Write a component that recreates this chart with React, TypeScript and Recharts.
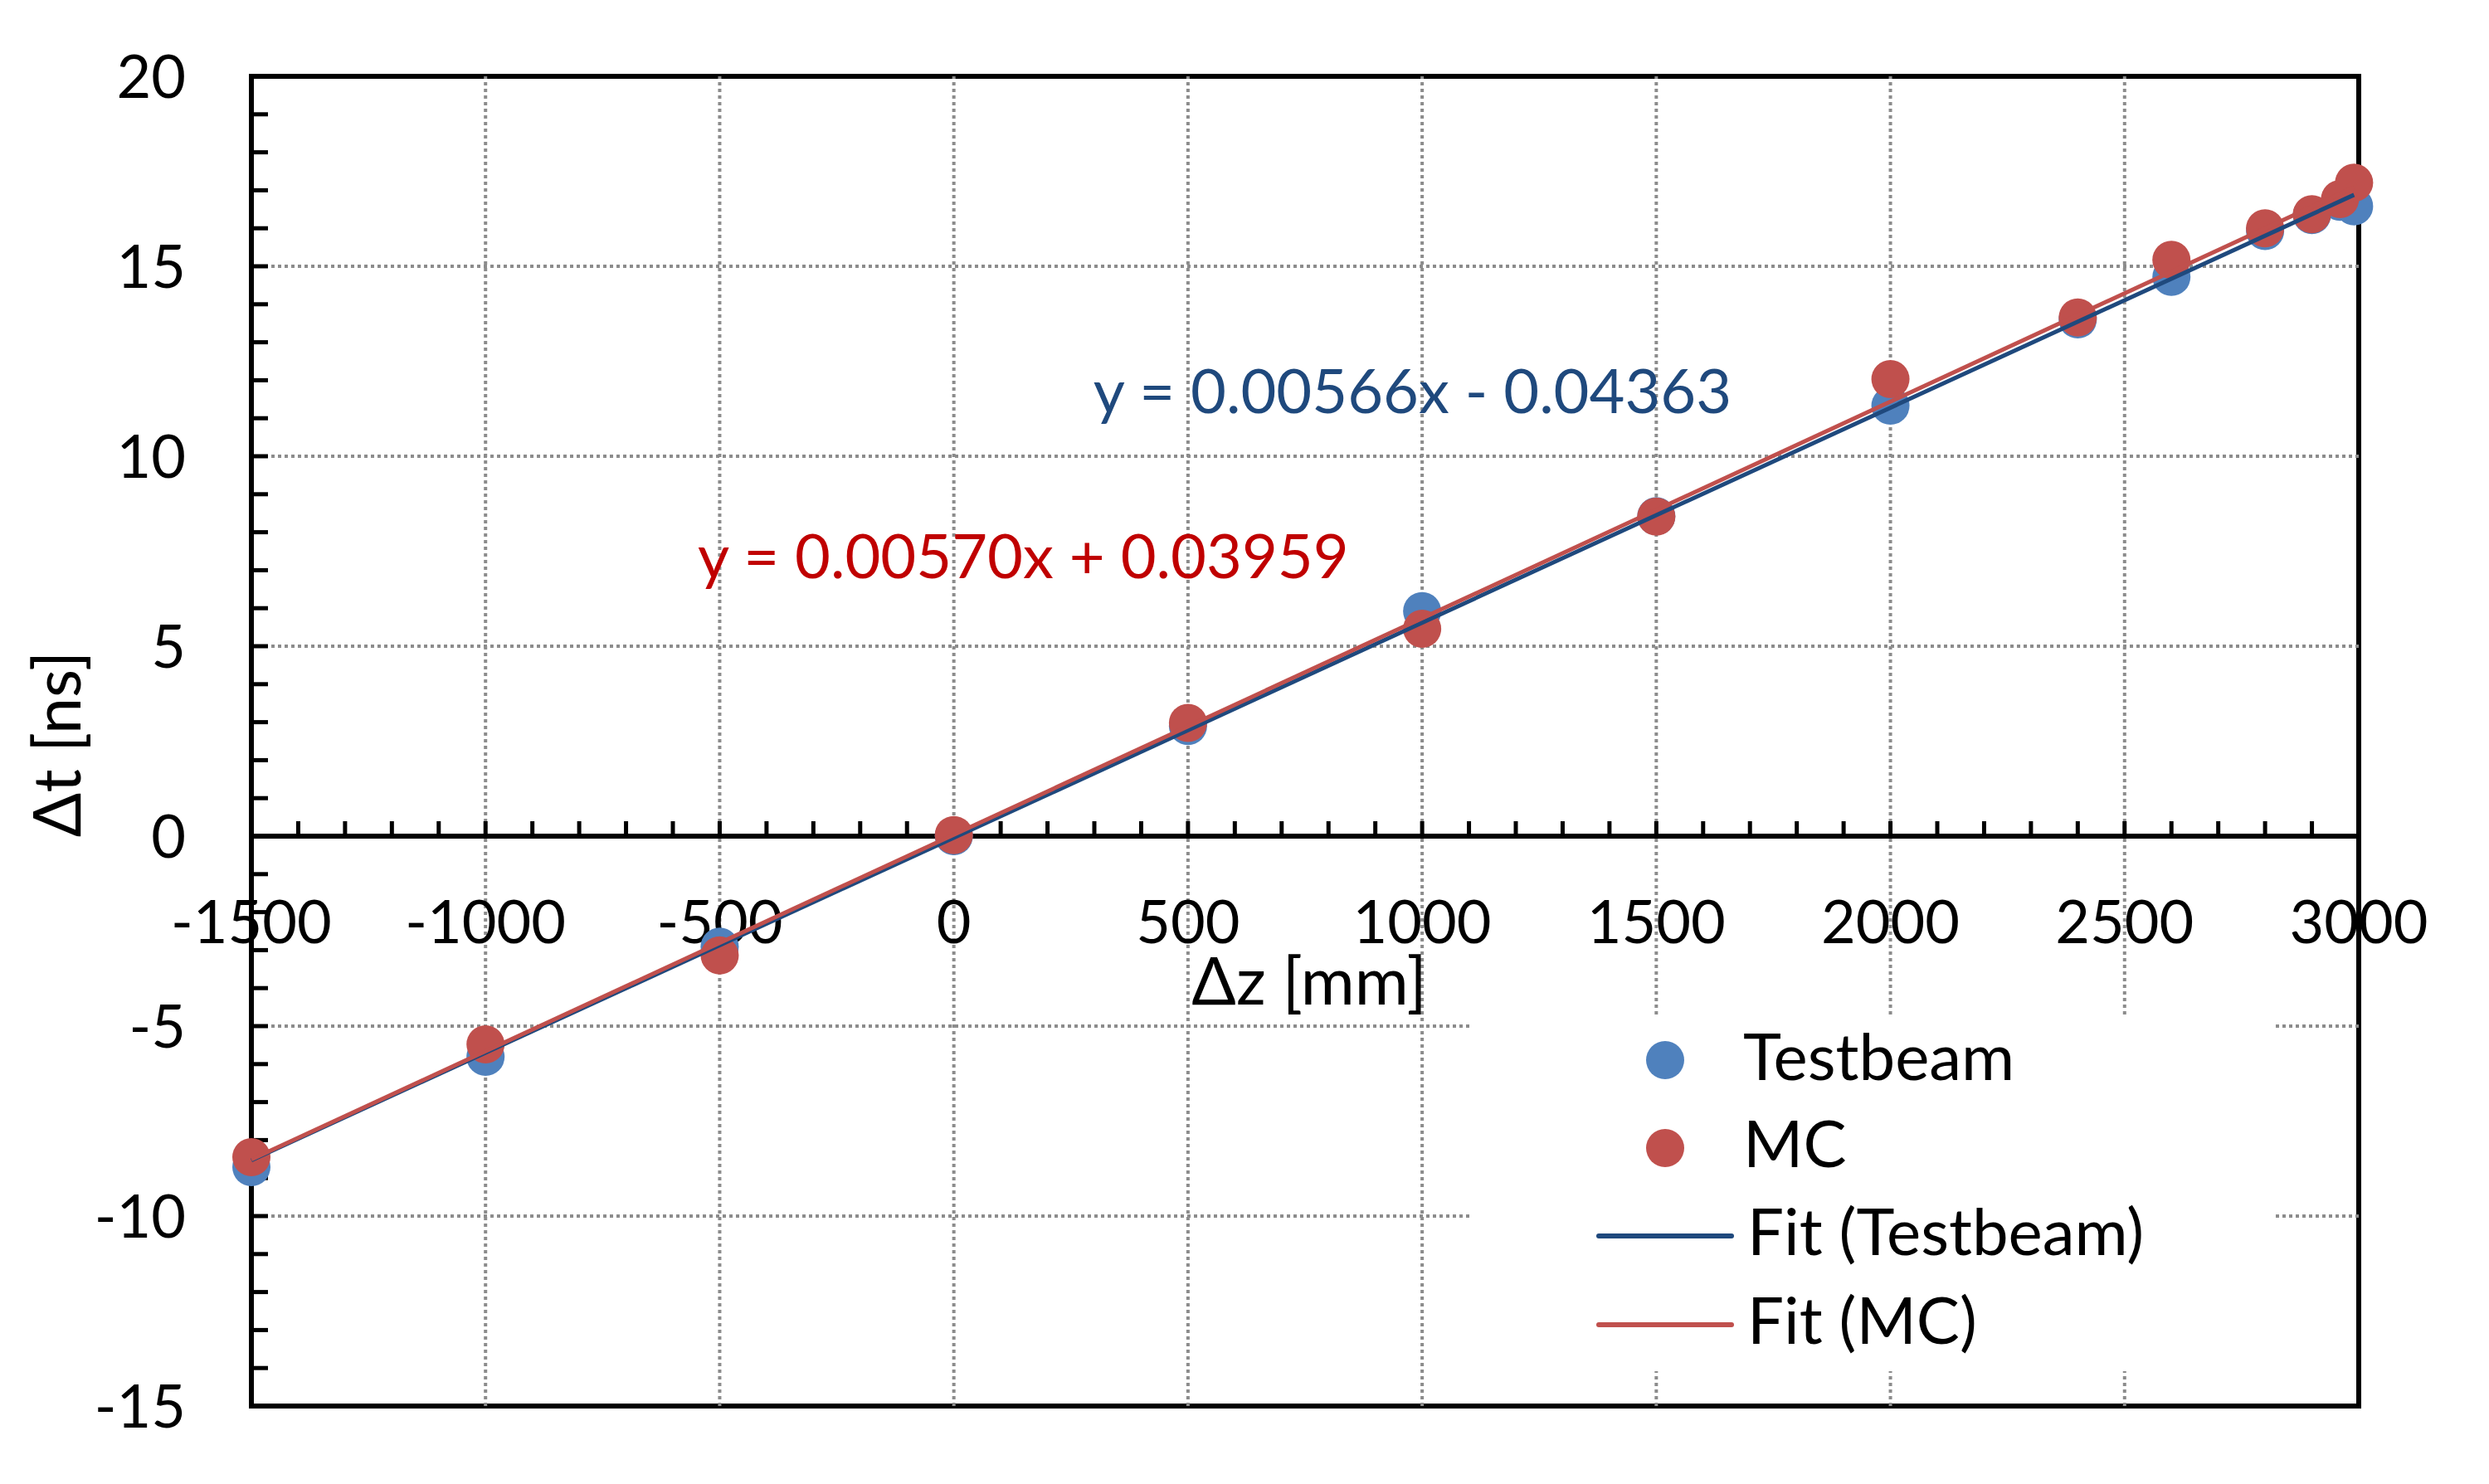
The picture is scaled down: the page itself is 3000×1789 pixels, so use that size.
import React from 'react';
import { ScatterChart, Scatter, XAxis, YAxis, ReferenceLine, ReferenceArea, Legend } from 'recharts';

// ---- data ----
const zPositions = [-1500, -1000, -500, 0, 500, 1000, 1500, 2000, 2400, 2600, 2800, 2900, 2960, 2990];
const testbeamDt = [-8.71, -5.81, -2.91, 0.0, 2.9, 5.92, 8.42, 11.33, 13.6, 14.72, 15.93, 16.35, 16.7, 16.58];
const mcDt = [-8.45, -5.48, -3.14, 0.03, 2.98, 5.46, 8.41, 12.03, 13.65, 15.17, 16.0, 16.37, 16.77, 17.2];

const fitZ = [-1500, 2990];
const fitTestbeamDt = [-8.53, 16.88];
const fitMcDt = [-8.51, 17.08];

const xTickValues = [-1500, -1000, -500, 0, 500, 1000, 1500, 2000, 2500, 3000];
const yTickValues = [-15, -10, -5, 0, 5, 10, 15, 20];
const xGridValues = [-1000, -500, 0, 500, 1000, 1500, 2000, 2500];
const yGridValues = [-10, -5, 5, 10, 15];
const xMinorTicks = [
  -1400, -1300, -1200, -1100, -1000, -900, -800, -700, -600, -500, -400, -300, -200, -100, 0,
  100, 200, 300, 400, 500, 600, 700, 800, 900, 1000, 1100, 1200, 1300, 1400, 1500, 1600, 1700,
  1800, 1900, 2000, 2100, 2200, 2300, 2400, 2500, 2600, 2700, 2800, 2900,
];
const yMinorTicks = [
  -14, -13, -12, -11, -10, -9, -8, -7, -6, -5, -4, -3, -2, -1, 0, 1, 2, 3, 4, 5, 6, 7, 8, 9, 10,
  11, 12, 13, 14, 15, 16, 17, 18, 19,
];

const equationTexts = ['y = 0.00566x - 0.04363', 'y = 0.00570x + 0.03959'];
const equationAnchorZ = [298, -547];
const equationAnchorDt = [11.14, 6.79];
const equationColors = ['#1F497D', '#C00000'];

const legendLabels = ['Testbeam', 'MC', 'Fit (Testbeam)', 'Fit (MC)'];
const xAxisTitle = 'Δz [mm]';
const yAxisTitle = 'Δt [ns]';

// ---- styles ----
const FONT = 'Lato, "Open Sans", sans-serif';
const TB_COLOR = '#4F81BD';
const MC_COLOR = '#C0504D';
const TB_FIT = '#1F497D';
const MC_FIT = '#C0504D';

const testbeamData = zPositions.map((x, i) => ({ x, y: testbeamDt[i] }));
const mcData = zPositions.map((x, i) => ({ x, y: mcDt[i] }));
const fitTestbeamData = fitZ.map((x, i) => ({ x, y: fitTestbeamDt[i] }));
const fitMcData = fitZ.map((x, i) => ({ x, y: fitMcDt[i] }));
const xMinorData = xMinorTicks.map((x) => ({ x, y: 0 }));
const yMinorData = yMinorTicks.map((y) => ({ x: -1500, y }));
const xLabelData = xTickValues.map((x) => ({ x, y: 0, label: String(x) }));
const equationData = equationTexts.map((t, i) => ({
  x: equationAnchorZ[i],
  y: equationAnchorDt[i],
  label: t,
  color: equationColors[i],
}));

const dotShape = (color: string) => (p: any) => <circle cx={p.cx} cy={p.cy} r={23} fill={color} />;
const xMinorShape = (p: any) => (
  <line x1={p.cx} y1={p.cy} x2={p.cx} y2={p.cy - 18} stroke="#000" strokeWidth={5} />
);
const yMinorShape = (p: any) => (
  <line x1={p.cx} y1={p.cy} x2={p.cx + 20} y2={p.cy} stroke="#000" strokeWidth={5} />
);
const xLabelShape = (p: any) => (
  <text x={p.cx} y={p.cy + 129} textAnchor="middle" fontSize={72} fontFamily={FONT} fill="#000">
    {p.payload.label}
  </text>
);
const equationShape = (p: any) => (
  <text x={p.cx} y={p.cy} textAnchor="start" fontSize={74} fontFamily={FONT} fill={p.payload.color}>
    {p.payload.label}
  </text>
);
const noShape = () => <g />;

const LEG_FS = 78;
const renderLegend = () => (
  <svg width={965} height={428} style={{ display: 'block' }}>
    <circle cx={232} cy={53} r={23} fill={TB_COLOR} />
    <text x={326} y={77} fontSize={LEG_FS} fontFamily={FONT} fill="#000">{legendLabels[0]}</text>
    <circle cx={232} cy={159} r={23} fill={MC_COLOR} />
    <text x={326} y={182} fontSize={LEG_FS} fontFamily={FONT} fill="#000">{legendLabels[1]}</text>
    <line x1={152} y1={265} x2={312} y2={265} stroke={TB_FIT} strokeWidth={6} strokeLinecap="round" />
    <text x={331} y={288} fontSize={LEG_FS} fontFamily={FONT} fill="#000">{legendLabels[2]}</text>
    <line x1={152} y1={372} x2={312} y2={372} stroke={MC_FIT} strokeWidth={6} strokeLinecap="round" />
    <text x={331} y={395} fontSize={LEG_FS} fontFamily={FONT} fill="#000">{legendLabels[3]}</text>
  </svg>
);

export default function App() {
  return (
    <div style={{ position: 'absolute', left: 0, top: 0, width: 3000, height: 1789, background: '#fff' }}>
      <ScatterChart width={3000} height={1789} margin={{ top: 92, right: 157, bottom: 94, left: 0 }}>
        <XAxis type="number" dataKey="x" domain={[-1500, 3000]} hide />
        <YAxis
          type="number"
          dataKey="y"
          domain={[-15, 20]}
          ticks={yTickValues}
          interval={0}
          width={303}
          axisLine={false}
          tickLine={false}
          tickSize={0}
          tickMargin={79}
          tick={{ fontSize: 72, fill: '#000', fontFamily: FONT }}
        />
        {xGridValues.map((v) => (
          <ReferenceLine key={'gx' + v} x={v} stroke="#8C8C8C" strokeWidth={4} strokeDasharray="4 4" />
        ))}
        {yGridValues.map((v) => (
          <ReferenceLine key={'gy' + v} y={v} stroke="#8C8C8C" strokeWidth={4} strokeDasharray="4 4" />
        ))}
        <ReferenceLine y={0} stroke="#000" strokeWidth={6} />
        <ReferenceArea x1={-1500} x2={3000} y1={-15} y2={20} fill="none" stroke="#000" strokeWidth={6} />
        <Scatter data={xMinorData} shape={xMinorShape} isAnimationActive={false} legendType="none" />
        <Scatter data={yMinorData} shape={yMinorShape} isAnimationActive={false} legendType="none" />
        <Scatter data={xLabelData} shape={xLabelShape} isAnimationActive={false} legendType="none" />
        <Scatter name="Testbeam" data={testbeamData} shape={dotShape(TB_COLOR)} isAnimationActive={false} />
        <Scatter name="MC" data={mcData} shape={dotShape(MC_COLOR)} isAnimationActive={false} />
        <Scatter
          name="Fit (Testbeam)"
          data={fitTestbeamData}
          line={{ stroke: TB_FIT, strokeWidth: 5 }}
          shape={noShape}
          isAnimationActive={false}
        />
        <Scatter
          name="Fit (MC)"
          data={fitMcData}
          line={{ stroke: MC_FIT, strokeWidth: 5 }}
          shape={noShape}
          isAnimationActive={false}
        />
        <Scatter data={equationData} shape={equationShape} isAnimationActive={false} legendType="none" />
        <Legend
          layout="vertical"
          align="center"
          verticalAlign="middle"
          content={renderLegend}
          wrapperStyle={{ left: 1775, top: 1225, width: 965, height: 428, background: '#fff' }}
        />
      </ScatterChart>
      <div
        style={{
          position: 'absolute',
          left: 67,
          top: 897,
          transform: 'translate(-50%, -50%) rotate(-90deg)',
          fontSize: 79,
          lineHeight: 0.7,
          fontFamily: FONT,
          whiteSpace: 'nowrap',
          color: '#000',
        }}
      >
        {yAxisTitle}
      </div>
      <div
        style={{
          position: 'absolute',
          left: 1578,
          top: 1181,
          transform: 'translate(-50%, -50%)',
          fontSize: 79,
          lineHeight: 0.7,
          fontFamily: FONT,
          whiteSpace: 'nowrap',
          color: '#000',
        }}
      >
        {xAxisTitle}
      </div>
    </div>
  );
}
